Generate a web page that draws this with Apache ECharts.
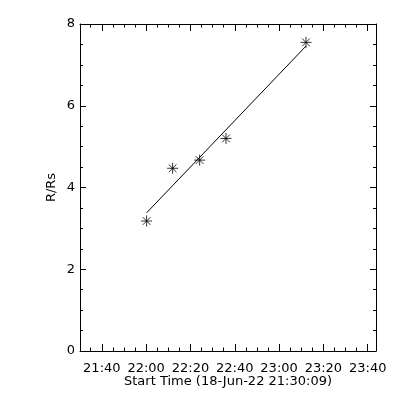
<!DOCTYPE html>
<html>
<head>
<meta charset="utf-8">
<script src="https://cdn.jsdelivr.net/npm/echarts@6/dist/echarts.min.js"></script>
<style>html,body{margin:0;padding:0;background:#fff;}#c{width:400px;height:400px;}</style>
</head>
<body>
<div id="c"></div>
<script>
// Data
const startTimeLabel = '18-Jun-22 21:30:09';
const times = ['22:00:13', '22:11:57', '22:24:09', '22:36:03', '23:12:09'];
const rValues = [3.18, 4.47, 4.67, 5.20, 7.55];
const fitTimes = ['22:00:13', '23:12:09'];
const fitValues = [3.38, 7.46];
const axisStart = '21:30:09';
const axisEnd = '23:43:45';
const yTicks = [0, 2, 4, 6, 8];

function toMin(s) {
  const p = s.split(':').map(Number);
  return p[0] * 60 + p[1] + (p[2] || 0) / 60;
}
function fmt(v) {
  const m = Math.round(v);
  const h = Math.floor(m / 60), mm = m % 60;
  return (h < 10 ? '0' : '') + h + ':' + (mm < 10 ? '0' : '') + mm;
}

const font = 'DejaVu Sans';
const xMin = toMin(axisStart), xMax = toMin(axisEnd);
const star = 'path://M0,5L10,5M5,0L5,10M1.5,1.5L8.5,8.5M8.5,1.5L1.5,8.5';

const common = {
  min: xMin, max: xMax, splitNumber: 7,
  axisLine: { show: true, onZero: false, lineStyle: { color: '#000', width: 1 } },
  axisTick: { show: true, inside: true, length: 7, lineStyle: { color: '#000' } },
  minorTick: { show: true, splitNumber: 4, length: 3.5, lineStyle: { color: '#000' } },
  splitLine: { show: false }
};
const yCommon = {
  type: 'value', min: 0, max: 8, interval: 2,
  axisLine: { show: true, onZero: false, lineStyle: { color: '#000', width: 1 } },
  axisTick: { show: true, inside: true, length: 6, lineStyle: { color: '#000' } },
  minorTick: { show: true, splitNumber: 4, length: 3, lineStyle: { color: '#000' } },
  splitLine: { show: false }
};

const chart = echarts.init(document.getElementById('c'), null, { renderer: 'canvas' });
chart.setOption({
  backgroundColor: '#fff',
  animation: false,
  grid: { left: 80, top: 24, width: 296, height: 327, containLabel: false },
  xAxis: [
    Object.assign({}, common, {
      type: 'value', position: 'bottom',
      name: 'Start Time (' + startTimeLabel + ')',
      nameLocation: 'middle', nameGap: 24, nameMoveOverlap: false,
      nameTextStyle: { color: '#000', fontFamily: font, fontSize: 13 },
      axisLabel: { show: true, margin: 11, color: '#000', fontFamily: font, fontSize: 13,
        showMinLabel: false, showMaxLabel: false, formatter: fmt }
    }),
    Object.assign({}, common, {
      type: 'value', position: 'top',
      axisLabel: { show: false }
    })
  ],
  yAxis: [
    Object.assign({}, yCommon, {
      position: 'left',
      name: 'R/Rs', nameLocation: 'middle', nameGap: 22, nameRotate: 90, nameMoveOverlap: false,
      nameTextStyle: { color: '#000', fontFamily: font, fontSize: 13 },
      axisLabel: { show: true, margin: 5, color: '#000', fontFamily: font, fontSize: 13,
        customValues: yTicks }
    }),
    Object.assign({}, yCommon, {
      position: 'right',
      axisLabel: { show: false }
    })
  ],
  series: [
    {
      type: 'line',
      data: fitTimes.map((t, i) => [toMin(t), fitValues[i]]),
      symbol: 'none',
      lineStyle: { color: '#000', width: 1 },
      silent: true
    },
    {
      type: 'scatter',
      data: times.map((t, i) => [toMin(t), rValues[i]]),
      symbol: star,
      symbolSize: 11,
      itemStyle: { color: 'none', borderColor: '#000', borderWidth: 1 },
      silent: true
    }
  ]
});
</script>
</body>
</html>
